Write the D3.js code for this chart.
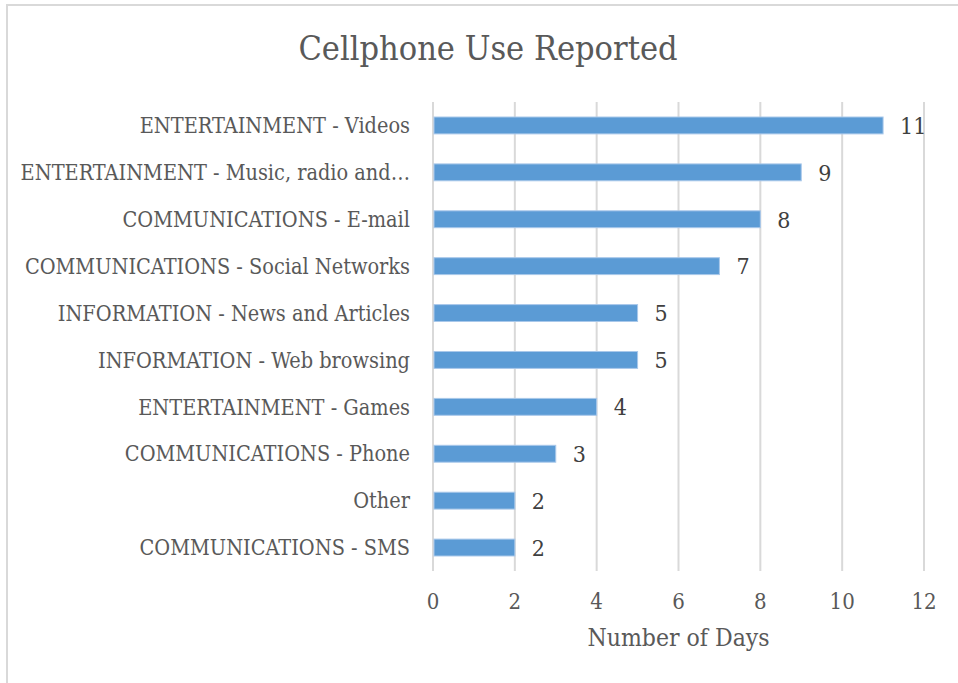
<!DOCTYPE html>
<html>
<head>
<meta charset="utf-8">
<script src="https://cdn.jsdelivr.net/npm/d3@7"></script>
<style>
  html, body { margin: 0; padding: 0; background: #fff; }
  svg { display: block; }
  text { font-family: "DejaVu Serif", "Liberation Serif", serif; font-stretch: condensed; }
</style>
</head>
<body>
<svg id="chart" width="958" height="683"></svg>
<script>
// Activities, listed top to bottom
const categories = [
  "ENTERTAINMENT - Videos",
  "ENTERTAINMENT - Music, radio and…",
  "COMMUNICATIONS - E-mail",
  "COMMUNICATIONS - Social Networks",
  "INFORMATION - News and Articles",
  "INFORMATION - Web browsing",
  "ENTERTAINMENT - Games",
  "COMMUNICATIONS - Phone",
  "Other",
  "COMMUNICATIONS - SMS"
];
// Number of days each activity was reported
const days = [11, 9, 8, 7, 5, 5, 4, 3, 2, 2];
const xTicks = [0, 2, 4, 6, 8, 10, 12];
const titleText = "Cellphone Use Reported";
const xAxisTitle = "Number of Days";

const svg = d3.select("#chart");
const W = 958, H = 683;

// Outer chart frame
svg.append("rect")
  .attr("x", 7).attr("y", 5)
  .attr("width", W + 20).attr("height", H + 20)
  .attr("fill", "#fff")
  .attr("stroke", "#d9d9d9").attr("stroke-width", 2);

const plot = { left: 433, right: 924, top: 102, bottom: 571 };

const x = d3.scaleLinear().domain([0, 12]).range([plot.left, plot.right]);
const y = d3.scaleBand().domain(categories).range([plot.top, plot.bottom])
  .paddingInner(0.64).paddingOuter(0.32);

// Title
svg.append("text")
  .attr("x", 488).attr("y", 60)
  .attr("text-anchor", "middle")
  .attr("fill", "#595959")
  .style("font-size", "34px")
  .text(titleText);

// Vertical gridlines
svg.append("g").selectAll("line").data(xTicks).join("line")
  .attr("x1", d => x(d)).attr("x2", d => x(d))
  .attr("y1", plot.top).attr("y2", plot.bottom)
  .attr("stroke", "#d9d9d9").attr("stroke-width", 2);

// Bars
svg.append("g").selectAll("rect").data(categories).join("rect")
  .attr("x", x(0) + 1)
  .attr("y", d => y(d))
  .attr("width", (d, i) => x(days[i]) - x(0) - 1)
  .attr("height", y.bandwidth())
  .attr("fill", "#5b9bd5")
  .attr("stroke", "#a9c8ea").attr("stroke-width", 1);

// Value labels
svg.append("g").selectAll("text").data(categories).join("text")
  .attr("x", (d, i) => x(days[i]) + 17)
  .attr("y", d => y(d) + y.bandwidth() / 2)
  .attr("dy", "0.36em")
  .attr("fill", "#404040")
  .style("font-size", "23px")
  .text((d, i) => days[i]);

// Category labels
svg.append("g").selectAll("text").data(categories).join("text")
  .attr("x", 410)
  .attr("y", d => y(d) + y.bandwidth() / 2)
  .attr("dy", "0.36em")
  .attr("text-anchor", "end")
  .attr("fill", "#595959")
  .style("font-size", "21.5px")
  .text(d => d);

// X tick labels
svg.append("g").selectAll("text").data(xTicks).join("text")
  .attr("x", d => x(d))
  .attr("y", 609)
  .attr("text-anchor", "middle")
  .attr("fill", "#595959")
  .style("font-size", "22px")
  .text(d => d);

// X axis title
svg.append("text")
  .attr("x", (plot.left + plot.right) / 2).attr("y", 646)
  .attr("text-anchor", "middle")
  .attr("fill", "#595959")
  .style("font-size", "24.5px")
  .text(xAxisTitle);
</script>
</body>
</html>
